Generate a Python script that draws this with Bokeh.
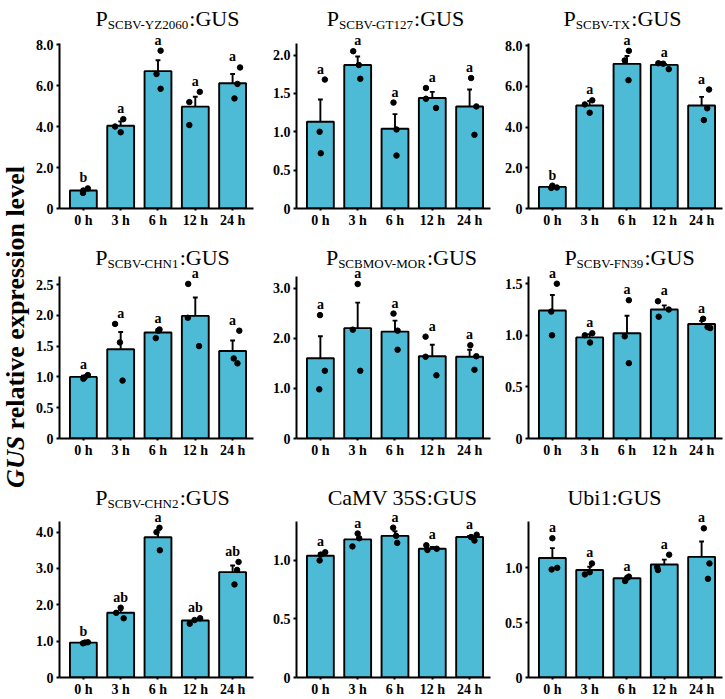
import math
from bokeh.plotting import figure
from bokeh.models import Range1d, FixedTicker, Label, LabelSet, ColumnDataSource, NumeralTickFormatter
from bokeh.layouts import row, column
from bokeh.embed import file_html
from bokeh.resources import INLINE

# ---------------- data ----------------
times = ["0 h", "3 h", "6 h", "12 h", "24 h"]

yz2060_title = ("P", "SCBV-YZ2060", ":GUS")
yz2060_mean = [0.88, 4.04, 6.70, 4.97, 6.11]
yz2060_se = [0.07, 0.21, 0.53, 0.48, 0.45]
yz2060_reps = [[0.88, 0.98, 0.76], [4.00, 4.36, 3.72], [6.56, 7.70, 5.84], [5.19, 5.69, 4.07], [6.88, 6.08, 5.37]]
yz2060_letters = ["b", "a", "a", "a", "a"]
yz2060_ticks = [0, 2, 4, 6, 8]
yz2060_ymax = 8.05

gt127_title = ("P", "SCBV-GT127", ":GUS")
gt127_mean = [1.13, 1.87, 1.04, 1.44, 1.33]
gt127_se = [0.29, 0.11, 0.19, 0.08, 0.22]
gt127_reps = [[1.68, 1.00, 0.72], [2.05, 1.87, 1.69], [1.38, 1.03, 0.69], [1.57, 1.43, 1.31], [1.70, 1.33, 0.96]]
gt127_letters = ["a", "a", "a", "a", "a"]
gt127_ticks = [0, 0.5, 1.0, 1.5, 2.0]
gt127_ymax = 2.15

tx_title = ("P", "SCBV-TX", ":GUS")
tx_mean = [1.06, 5.06, 7.10, 7.05, 5.06]
tx_se = [0.04, 0.22, 0.39, 0.05, 0.42]
tx_reps = [[1.12, 1.03, 1.01], [5.11, 5.31, 4.70], [7.74, 7.27, 6.30], [7.13, 7.11, 6.84], [5.84, 4.92, 4.34]]
tx_letters = ["b", "a", "a", "a", "a"]
tx_ticks = [0, 2, 4, 6, 8]
tx_ymax = 8.1

chn1_title = ("P", "SCBV-CHN1", ":GUS")
chn1_mean = [1.00, 1.45, 1.72, 1.99, 1.42]
chn1_se = [0.02, 0.28, 0.05, 0.30, 0.17]
chn1_reps = [[0.97, 1.03, 0.99], [1.86, 1.56, 0.94], [1.63, 1.77, 1.75], [2.51, 1.96, 1.50], [1.75, 1.30, 1.22]]
chn1_letters = ["a", "a", "a", "a", "a"]
chn1_ticks = [0, 0.5, 1.0, 1.5, 2.0, 2.5]
chn1_ymax = 2.63

mor_title = ("P", "SCBMOV-MOR", ":GUS")
mor_mean = [1.60, 2.20, 2.13, 1.64, 1.63]
mor_se = [0.44, 0.51, 0.22, 0.23, 0.14]
mor_reps = [[2.46, 1.35, 0.98], [3.08, 2.17, 1.35], [2.49, 2.15, 1.77], [2.03, 1.63, 1.26], [1.86, 1.64, 1.37]]
mor_letters = ["a", "a", "a", "a", "a"]
mor_ticks = [0, 1.0, 2.0, 3.0]
mor_ymax = 3.23

fn39_title = ("P", "SCBV-FN39", ":GUS")
fn39_mean = [1.24, 0.98, 1.02, 1.25, 1.11]
fn39_se = [0.15, 0.03, 0.17, 0.04, 0.03]
fn39_reps = [[1.50, 1.23, 1.00], [1.00, 1.02, 0.93], [1.34, 0.99, 0.73], [1.33, 1.25, 1.18], [1.16, 1.08, 1.07]]
fn39_letters = ["a", "a", "a", "a", "a"]
fn39_ticks = [0, 0.5, 1.0, 1.5]
fn39_ymax = 1.57

chn2_title = ("P", "SCBV-CHN2", ":GUS")
chn2_mean = [0.96, 1.78, 3.86, 1.57, 2.90]
chn2_se = [0.01, 0.08, 0.19, 0.04, 0.18]
chn2_reps = [[0.94, 0.97, 0.96], [1.92, 1.78, 1.63], [4.12, 4.00, 3.50], [1.48, 1.58, 1.63], [3.18, 2.96, 2.56]]
chn2_letters = ["b", "ab", "a", "ab", "ab"]
chn2_ticks = [0, 1.0, 2.0, 3.0, 4.0]
chn2_ymax = 4.30

camv_title = ("CaMV 35S:GUS", "", "")
camv_mean = [1.04, 1.18, 1.21, 1.10, 1.20]
camv_se = [0.02, 0.05, 0.04, 0.015, 0.01]
camv_reps = [[1.00, 1.05, 1.07], [1.12, 1.23, 1.19], [1.28, 1.21, 1.15], [1.13, 1.09, 1.10], [1.20, 1.22, 1.17]]
camv_letters = ["a", "a", "a", "a", "a"]
camv_ticks = [0, 0.5, 1.0]
camv_ymax = 1.335

ubi1_title = ("Ubi1:GUS", "", "")
ubi1_mean = [1.09, 0.98, 0.905, 1.03, 1.10]
ubi1_se = [0.09, 0.03, 0.015, 0.045, 0.14]
ubi1_reps = [[1.27, 0.985, 1.00], [0.94, 0.96, 1.04], [0.88, 0.92, 0.91], [1.005, 0.98, 1.12], [1.36, 1.04, 0.90]]
ubi1_letters = ["a", "a", "a", "a", "a"]
ubi1_ticks = [0, 0.5, 1.0]
ubi1_ymax = 1.425

# ---------------- styling (point jitter, title centres) ----------------
jitter = {
    "yz2060": [[0.0, 0.12, -0.01], [-0.15, 0.07, 0.0], [-0.04, 0.07, 0.07], [-0.16, 0.12, -0.16], [0.2, 0.13, 0.05]],
    "gt127": [[0.12, -0.02, 0.01], [-0.12, 0.03, 0.07], [-0.04, 0.04, 0.04], [-0.17, -0.17, 0.10], [0.04, 0.18, 0.13]],
    "tx": [[0.0, 0.12, -0.03], [-0.13, 0.07, 0.0], [0.05, -0.06, 0.04], [-0.16, -0.03, 0.12], [0.2, 0.15, 0.06]],
    "chn1": [[0.0, 0.12, 0.03], [-0.15, -0.02, 0.05], [-0.06, 0.04, 0.01], [-0.19, -0.2, 0.1], [0.18, 0.03, 0.13]],
    "mor": [[-0.01, 0.12, -0.03], [0.0, -0.13, 0.07], [-0.04, 0.07, 0.07], [-0.18, -0.18, 0.11], [0.02, 0.18, 0.13]],
    "fn39": [[0.12, -0.03, -0.01], [-0.13, 0.07, 0.01], [0.05, -0.06, 0.05], [-0.17, 0.12, -0.15], [0.04, 0.16, 0.23]],
    "chn2": [[-0.01, 0.12, 0.04], [0.0, -0.12, 0.08], [0.04, -0.04, 0.05], [-0.15, -0.02, 0.13], [0.16, 0.12, 0.05]],
    "camv": [[-0.02, 0.01, 0.13], [-0.14, 0.0, 0.04], [-0.05, 0.03, 0.06], [-0.16, -0.13, 0.12], [0.04, 0.19, 0.13]],
    "ubi1": [[0.0, -0.02, 0.13], [-0.13, 0.0, 0.06], [-0.05, 0.05, 0.01], [-0.19, -0.17, 0.13], [0.06, 0.21, 0.17]],
}
title_cx = {"yz2060": 108, "gt127": 99, "tx": 94, "chn1": 103, "mor": 105, "fn39": 101,
            "chn2": 103, "camv": 106, "ubi1": 86}

panels = [
    ["yz2060", yz2060_title, yz2060_mean, yz2060_se, yz2060_reps, yz2060_letters, yz2060_ticks, yz2060_ymax],
    ["gt127", gt127_title, gt127_mean, gt127_se, gt127_reps, gt127_letters, gt127_ticks, gt127_ymax],
    ["tx", tx_title, tx_mean, tx_se, tx_reps, tx_letters, tx_ticks, tx_ymax],
    ["chn1", chn1_title, chn1_mean, chn1_se, chn1_reps, chn1_letters, chn1_ticks, chn1_ymax],
    ["mor", mor_title, mor_mean, mor_se, mor_reps, mor_letters, mor_ticks, mor_ymax],
    ["fn39", fn39_title, fn39_mean, fn39_se, fn39_reps, fn39_letters, fn39_ticks, fn39_ymax],
    ["chn2", chn2_title, chn2_mean, chn2_se, chn2_reps, chn2_letters, chn2_ticks, chn2_ymax],
    ["camv", camv_title, camv_mean, camv_se, camv_reps, camv_letters, camv_ticks, camv_ymax],
    ["ubi1", ubi1_title, ubi1_mean, ubi1_se, ubi1_reps, ubi1_letters, ubi1_ticks, ubi1_ymax],
]

FONT = "Liberation Serif"
BAR = "#4DBBD5"
TICK_FS = "14px"

# Times / Liberation Serif advance widths (em)
ADV = {'P': .556, 'S': .556, 'C': .667, 'B': .667, 'V': .722, '-': .333, 'Y': .722, 'Z': .611,
       'G': .722, 'T': .611, 'X': .722, 'H': .722, 'N': .722, 'M': .889, 'O': .722, 'R': .667,
       'F': .556, ':': .278, 'U': .722, 'a': .444, ' ': .25, 'b': .5, 'i': .278, 'E': .611}


def tw(s, size):
    return sum(ADV.get(c, 0.5) for c in s) * size


LAB_W = 30
col_w = [228, 234, 233]
col_left = [29, 38, 36]
FRAME_W = 194
row_h = [232, 232, 235]
row_top = [43, 44, 57]      # space above the axis top (title area)
row_fh = [165, 162, 157]    # axis height
row_tdy = [25, 19, 23]      # title baseline above axis top


def make_panel(k, spec):
    key, title, mean, se, reps, letters, ticks, ymax = spec
    c, r = k % 3, k // 3
    bl = col_left[c]
    br = col_w[c] - bl - FRAME_W
    bt = row_top[r]
    fh = row_fh[r]
    bb = row_h[r] - bt - fh
    yend = ymax * (bt + fh) / fh   # frame reaches the canvas top; axis line stops at ymax
    p = figure(width=col_w[c], height=row_h[r], x_range=Range1d(0.36, 5.56), y_range=Range1d(0, yend),
               output_backend="svg", toolbar_location=None,
               min_border_left=bl, min_border_right=br, min_border_top=0, min_border_bottom=bb)
    p.outline_line_color = None
    p.xgrid.visible = False
    p.ygrid.visible = False
    p.background_fill_color = "white"

    xs = [i + 1 for i in range(len(times))]
    tops = [m + s for m, s in zip(mean, se)]
    p.vbar(x=xs, top=mean, bottom=0, width=0.72, fill_color=BAR, line_color="black", line_width=1.9)
    p.segment(x0=xs, y0=mean, x1=xs, y1=tops, line_color="black", line_width=1.9)
    p.segment(x0=[x - 0.065 for x in xs], y0=tops, x1=[x + 0.065 for x in xs], y1=tops,
              line_color="black", line_width=1.9)
    px, py = [], []
    for i, vals in enumerate(reps):
        for j, v in enumerate(vals):
            px.append(xs[i] + jitter[key][i][j])
            py.append(v)
    p.scatter(x=px, y=py, size=5.5, color="black")

    ly = [max(max(vals), t) for vals, t in zip(reps, tops)]
    src = ColumnDataSource(dict(x=xs, y=ly, t=letters))
    p.add_layout(LabelSet(x="x", y="y", text="t", source=src, y_offset=6, text_align="center",
                          text_baseline="alphabetic", text_font=FONT, text_font_style="bold",
                          text_font_size="14px", text_color="black"))

    p.xaxis.ticker = FixedTicker(ticks=xs)
    p.xaxis.major_label_overrides = {x: t for x, t in zip(xs, times)}
    p.yaxis.ticker = FixedTicker(ticks=ticks)
    p.yaxis.formatter = NumeralTickFormatter(format="0.0")
    p.yaxis.major_label_overrides = {0: "0"}
    p.yaxis.bounds = (0, ymax)
    for ax in p.axis:
        ax.axis_line_width = 2
        ax.axis_line_color = "black"
        ax.major_tick_line_width = 2
        ax.major_tick_line_color = "black"
        ax.major_tick_out = 3
        ax.major_tick_in = 0
        ax.minor_tick_line_color = None
        ax.major_label_text_font = FONT
        ax.major_label_text_font_style = "bold"
        ax.major_label_text_font_size = TICK_FS
        ax.major_label_text_color = "black"
        ax.major_label_standoff = 3
    p.xaxis.major_tick_out = 2
    p.xaxis.major_label_standoff = 2

    # title: main + subscript + tail (inside the frame, above the axis top)
    main, sub, tail = title
    w = tw(main, 22) + tw(sub, 13) + tw(tail, 22)
    x0 = title_cx[key] - w / 2
    yb = fh + row_tdy[r]
    p.add_layout(Label(x=x0, y=yb, x_units="screen", y_units="screen", text=main, text_font=FONT,
                       text_font_size="22px", text_color="black", text_align="left", text_baseline="alphabetic"))
    if sub:
        x1 = x0 + tw(main, 22)
        p.add_layout(Label(x=x1, y=yb - 6, x_units="screen", y_units="screen", text=sub, text_font=FONT,
                           text_font_size="13px", text_color="black", text_align="left",
                           text_baseline="alphabetic"))
        x2 = x1 + tw(sub, 13)
        p.add_layout(Label(x=x2, y=yb, x_units="screen", y_units="screen", text=tail, text_font=FONT,
                           text_font_size="22px", text_color="black", text_align="left",
                           text_baseline="alphabetic"))
    return p


figs = [make_panel(k, spec) for k, spec in enumerate(panels)]

# y-axis title
TOTAL_H = sum(row_h)
lab = figure(width=LAB_W, height=TOTAL_H, output_backend="svg", toolbar_location=None,
             x_axis_location=None, y_axis_location=None, min_border=0,
             x_range=Range1d(0, 1), y_range=Range1d(0, 1))
lab.outline_line_color = None
lab.grid.visible = False
LBL = 26
gus_w = 2.0 * LBL
rest = "relative expression level"
total_w = gus_w + 0.25 * LBL + 10.165 * LBL
y_start = TOTAL_H - 326 - total_w / 2
lab.add_layout(Label(x=LAB_W / 2, y=y_start, x_units="screen", y_units="screen", text="GUS", angle=math.pi / 2,
                     text_align="left", text_baseline="middle", text_font=FONT, text_font_size=f"{LBL}px",
                     text_font_style="bold italic", text_color="black"))
lab.add_layout(Label(x=LAB_W / 2, y=y_start + gus_w + 0.25 * LBL, x_units="screen", y_units="screen",
                     text=rest, angle=math.pi / 2,
                     text_align="left", text_baseline="middle", text_font=FONT, text_font_size=f"{LBL}px",
                     text_font_style="bold", text_color="black"))

grid = column(row(*figs[0:3]), row(*figs[3:6]), row(*figs[6:9]))
layout = row(lab, grid)

open("out.html", "w").write(file_html(layout, INLINE))
